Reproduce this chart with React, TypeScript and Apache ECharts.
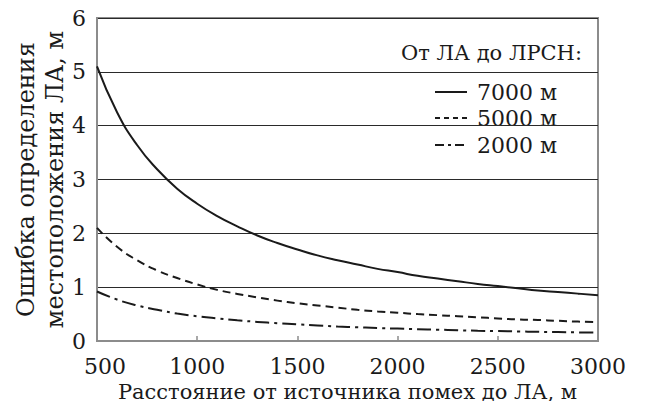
import React, { useEffect, useRef } from "react";
import * as echarts from "echarts";

// Distance from the jamming source to the aircraft, m
const distances = [
  500, 600, 700, 800, 900, 1000, 1100, 1200, 1300, 1400, 1500, 1600, 1700,
  1800, 1900, 2000, 2100, 2200, 2300, 2400, 2500, 2600, 2700, 2800, 2900, 3000,
];

// Location error, m, for each aircraft-to-station distance
const error7000 = [
  5.1, 4.25, 3.64, 3.19, 2.83, 2.55, 2.32, 2.13, 1.96, 1.82, 1.7, 1.59, 1.5,
  1.42, 1.34, 1.28, 1.21, 1.16, 1.11, 1.06, 1.02, 0.98, 0.94, 0.91, 0.88, 0.85,
];
const error5000 = [
  2.1, 1.75, 1.5, 1.31, 1.17, 1.05, 0.95, 0.875, 0.81, 0.75, 0.7, 0.66, 0.62,
  0.58, 0.55, 0.525, 0.5, 0.48, 0.46, 0.44, 0.42, 0.4, 0.39, 0.375, 0.36, 0.35,
];
const error2000 = [
  0.92, 0.77, 0.66, 0.58, 0.51, 0.46, 0.42, 0.385, 0.355, 0.33, 0.31, 0.29,
  0.27, 0.255, 0.24, 0.23, 0.22, 0.21, 0.2, 0.19, 0.185, 0.177, 0.17, 0.165,
  0.16, 0.155,
];

const seriesNames = ["7000 м", "5000 м", "2000 м"];
const legendTitle = "От ЛА до ЛРСН:";
const xAxisTitle = "Расстояние от источника помех до ЛА, м";
const yAxisTitle = "Ошибка определения\nместоположения ЛА, м";

const FONT = "'DejaVu Serif', serif";
const INK = "#1a1a1a";
const AXIS_GRAY = "#8c8c8c";

const dashStyles: any[] = ["solid", [8, 5], [14, 5, 3, 5]];
const legendDashes: any[] = [null, [5, 4], [9, 4, 3, 4]];

const pairs = (ys: number[]) => distances.map((x, i) => [x, ys[i]]);

export default function App() {
  const ref = useRef<HTMLDivElement>(null);

  useEffect(() => {
    if (!ref.current) return;
    const chart = echarts.init(ref.current, undefined, { renderer: "svg" });

    const lineSeries = (name: string, data: number[], type: any) => ({
      name,
      type: "line",
      data: pairs(data),
      showSymbol: false,
      symbol: "none",
      smooth: true,
      lineStyle: { color: INK, width: 2, type },
    });

    // Legend key drawn by hand: a short line sample and its caption per row
    const legendRows = [92, 118, 145];
    const legendGraphics: any[] = [];
    seriesNames.forEach((name, i) => {
      legendGraphics.push({
        type: "line",
        shape: { x1: 435, y1: legendRows[i], x2: 467, y2: legendRows[i] },
        style: {
          stroke: INK,
          lineWidth: 2,
          lineDash: legendDashes[i] || undefined,
        },
      });
      legendGraphics.push({
        type: "text",
        x: 477,
        y: legendRows[i],
        style: {
          text: name,
          fontFamily: FONT,
          fontSize: 22,
          fill: INK,
          verticalAlign: "middle",
          align: "left",
        },
      });
    });

    chart.setOption({
      animation: false,
      backgroundColor: "#ffffff",
      textStyle: { fontFamily: FONT, color: INK },
      grid: {
        left: 97,
        right: 47,
        top: 18,
        bottom: 68,
        containLabel: false,
        outerBoundsMode: "none",
        show: true,
        borderColor: AXIS_GRAY,
        borderWidth: 2,
        backgroundColor: "transparent",
      },
      graphic: [
        {
          type: "text",
          x: 582,
          y: 53,
          style: {
            text: legendTitle,
            fontFamily: FONT,
            fontSize: 21,
            fill: INK,
            align: "right",
            verticalAlign: "middle",
          },
        },
        ...legendGraphics,
      ],
      xAxis: {
        type: "value",
        min: 500,
        max: 3000,
        interval: 500,
        name: xAxisTitle,
        nameLocation: "middle",
        nameMoveOverlap: false,
        nameGap: 40,
        nameTextStyle: { fontFamily: FONT, fontSize: 21, color: INK },
        axisLine: { show: true, lineStyle: { color: AXIS_GRAY, width: 2 } },
        axisTick: {
          show: true,
          inside: true,
          length: 5,
          lineStyle: { color: AXIS_GRAY, width: 1.5 },
        },
        splitLine: { show: false },
        axisLabel: {
          margin: 14,
          fontFamily: FONT,
          fontSize: 22,
          color: INK,
          formatter: (v: number) => (v === 500 ? `{first|${v}}` : `${v}`),
          rich: {
            first: {
              fontFamily: FONT,
              fontSize: 22,
              color: INK,
              padding: [0, 0, 0, 16],
            },
          },
        },
      },
      yAxis: {
        type: "value",
        min: 0,
        max: 6,
        interval: 1,
        name: yAxisTitle,
        nameLocation: "middle",
        nameRotate: 90,
        nameMoveOverlap: false,
        nameGap: 28,
        nameTextStyle: {
          fontFamily: FONT,
          fontSize: 24,
          lineHeight: 29,
          color: INK,
        },
        axisLine: { show: true, lineStyle: { color: AXIS_GRAY, width: 2 } },
        axisTick: { show: false },
        splitLine: { show: true, lineStyle: { color: "#2a2a2a", width: 1 } },
        axisLabel: {
          margin: 11,
          fontFamily: FONT,
          fontSize: 22,
          color: INK,
        },
      },
      series: [
        lineSeries(seriesNames[0], error7000, dashStyles[0]),
        lineSeries(seriesNames[1], error5000, dashStyles[1]),
        lineSeries(seriesNames[2], error2000, dashStyles[2]),
      ],
    });

    return () => chart.dispose();
  }, []);

  return <div ref={ref} style={{ width: 645, height: 409, margin: -8 }} />;
}
